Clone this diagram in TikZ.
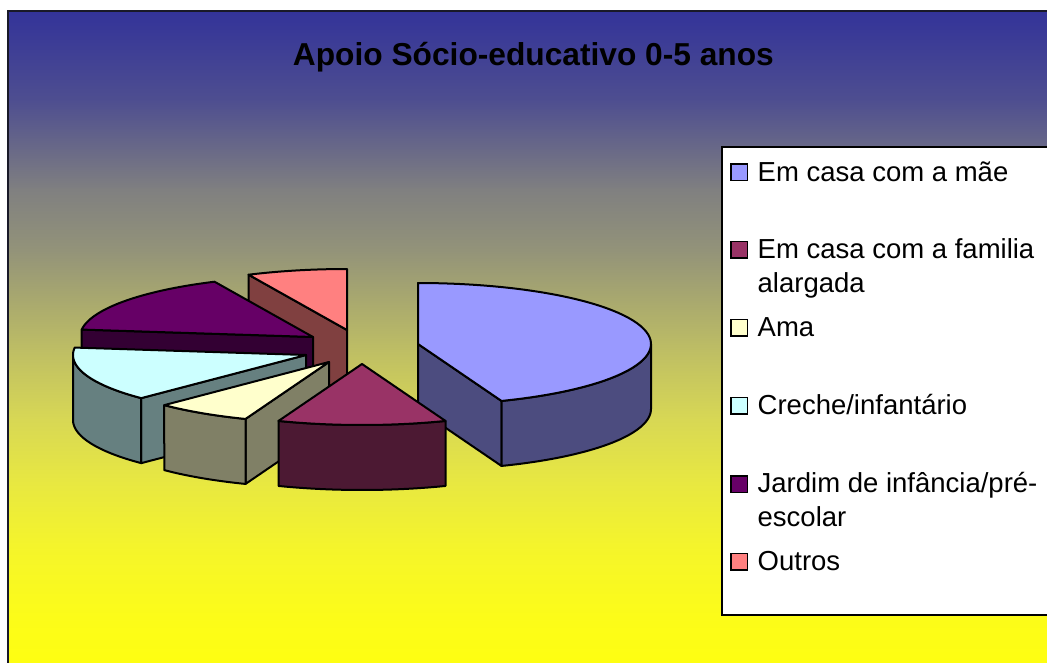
\documentclass[tikz,border=0pt]{standalone}
\usepackage{fontspec}
\setmainfont{Liberation Sans}
\definecolor{gA}{RGB}{51,51,153}
\definecolor{gB}{RGB}{78,78,144}
\definecolor{gC}{RGB}{128,128,128}
\definecolor{gD}{RGB}{147,147,121}
\definecolor{gE}{RGB}{190,190,100}
\definecolor{gF}{RGB}{215,215,85}
\definecolor{gG}{RGB}{232,232,65}
\definecolor{gH}{RGB}{245,245,42}
\definecolor{gI}{RGB}{252,252,25}
\definecolor{gJ}{RGB}{255,255,15}
\definecolor{bluT}{HTML}{9999FF}
\definecolor{bluS}{HTML}{4C4C7F}
\definecolor{marT}{HTML}{993366}
\definecolor{marS}{HTML}{4C1933}
\definecolor{amaT}{HTML}{FFFFCC}
\definecolor{amaS}{HTML}{808066}
\definecolor{cyaT}{HTML}{CCFFFF}
\definecolor{cyaS}{HTML}{668080}
\definecolor{purT}{HTML}{660066}
\definecolor{purS}{HTML}{330033}
\definecolor{pinkT}{HTML}{FF8080}
\definecolor{pinkS}{HTML}{804040}
\def\pierx{233}
\def\piery{61}
\def\pieh{65}
\tikzset{
  pieline/.style={draw=black, line width=2pt, line join=round},
  legsq/.style={draw=black, line width=1.2pt},
  legtxt/.style={anchor=base west, inner sep=0pt, font=\fontsize{27.5}{33}\selectfont},
}
\newcommand{\ptop}[5]{\filldraw[pieline, fill=#5] (#1,#2) -- plot[domain=#3:#4, samples=60] ({#1+\pierx*cos(\x)},{#2-\piery*sin(\x)}) -- cycle;}
\newcommand{\prad}[4]{\filldraw[pieline, fill=#4] (#1,#2) -- ({#1+\pierx*cos(#3)},{#2-\piery*sin(#3)}) -- ({#1+\pierx*cos(#3)},{#2-\piery*sin(#3)+\pieh}) -- (#1,{#2+\pieh}) -- cycle;}
\newcommand{\pside}[5]{\filldraw[pieline, fill=#5] plot[domain=#3:#4, samples=40] ({#1+\pierx*cos(\x)},{#2-\piery*sin(\x)}) -- plot[domain=#4:#3, samples=40] ({#1+\pierx*cos(\x)},{#2-\piery*sin(\x)+\pieh}) -- cycle;}
\begin{document}
\begin{tikzpicture}[x=1pt,y=-1pt]
\useasboundingbox (0,0) rectangle (1047,663);
\fill[white] (0,0) rectangle (1047,663);
\clip (0,0) rectangle (1047,663);
% background gradient
\shade[top color=gA, bottom color=gB] (8,11) rectangle (1060,100.6);
\shade[top color=gB, bottom color=gC] (8,100) rectangle (1060,190.6);
\shade[top color=gC, bottom color=gD] (8,190) rectangle (1060,250.6);
\shade[top color=gD, bottom color=gE] (8,250) rectangle (1060,350.6);
\shade[top color=gE, bottom color=gF] (8,350) rectangle (1060,417.6);
\shade[top color=gF, bottom color=gG] (8,417) rectangle (1060,483.6);
\shade[top color=gG, bottom color=gH] (8,483) rectangle (1060,550.6);
\shade[top color=gH, bottom color=gI] (8,550) rectangle (1060,617.6);
\shade[top color=gI, bottom color=gJ] (8,617) rectangle (1060,680);
\draw[line width=1.5pt, draw={rgb,255:red,25;green,25;blue,40}] (8,11) rectangle (1060,680);
% title
\node[anchor=base, inner sep=0pt, font=\fontsize{31.7}{38}\selectfont\bfseries] (title) at (533.4,66) {Apoio Sócio-educativo 0-5 anos};
% pie: Outros
\prad{347}{330}{115}{pinkS}
\ptop{347}{330}{90}{115}{pinkT}
% Jardim
\prad{313}{337}{173}{purS}
\ptop{313}{337}{115}{173}{purT}
% Em casa com a mae
\prad{418}{344}{291}{bluS}
\pside{418}{344}{291}{360}{bluS}
\ptop{418}{344}{291}{450}{bluT}
% Creche
\prad{306}{355}{225}{cyaS}
\pside{306}{355}{180}{225}{cyaS}
\ptop{306}{355}{173}{225}{cyaT}
% Ama
\prad{329}{362}{249}{amaS}
\pside{329}{362}{225}{249}{amaS}
\ptop{329}{362}{225}{249}{amaT}
% familia alargada
\pside{362}{364}{249}{291}{marS}
\ptop{362}{364}{249}{291}{marT}
% legend
\filldraw[fill=white, draw=black, line width=1.4pt] (722,147) rectangle (1060,615);
\filldraw[legsq, fill=bluT] (731,164) rectangle (747.5,180.5);
\node[legtxt] (l1) at (757.5,181.7) {Em casa com a mãe};
\filldraw[legsq, fill=marT] (731,241.5) rectangle (747.5,258);
\node[legtxt] (l2a) at (757.5,258.3) {Em casa com a familia};
\node[legtxt] (l2b) at (757.5,292.7) {alargada};
\filldraw[legsq, fill=amaT] (731,319.5) rectangle (747.5,336);
\node[legtxt] (l3) at (757.5,336.7) {Ama};
\filldraw[legsq, fill=cyaT] (731,397.5) rectangle (747.5,414);
\node[legtxt] (l4) at (757.5,414.3) {Creche/infantário};
\filldraw[legsq, fill=purT] (731,476) rectangle (747.5,492.5);
\node[legtxt] (l5a) at (757.5,492.7) {Jardim de infância/pré-};
\node[legtxt] (l5b) at (757.5,526.7) {escolar};
\filldraw[legsq, fill=pinkT] (731,553.5) rectangle (747.5,570);
\node[legtxt] (l6) at (757.5,570.7) {Outros};
\end{tikzpicture}
\end{document}
